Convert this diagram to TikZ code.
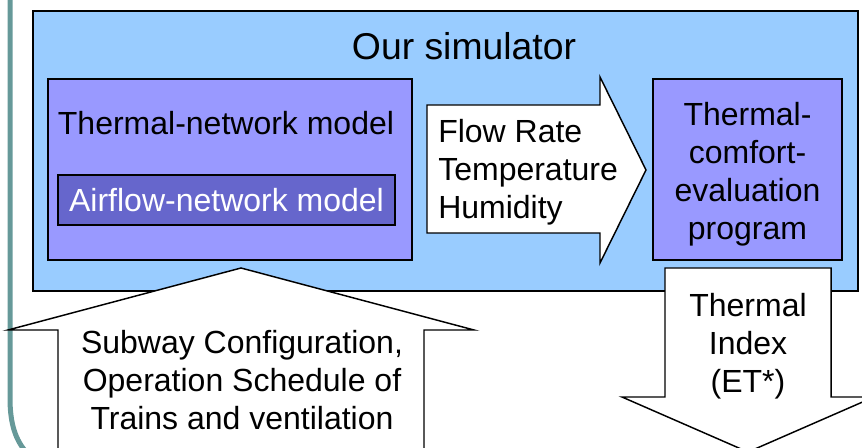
\documentclass[tikz,border=0pt]{standalone}
\usepackage{fontspec}
\setmainfont{Liberation Sans}
\usetikzlibrary{fit}
\definecolor{simblue}{RGB}{153,204,255}
\definecolor{netpurple}{RGB}{153,153,255}
\definecolor{airpurple}{RGB}{102,102,204}
\definecolor{frameteal}{RGB}{102,153,153}

\begin{document}
\begin{tikzpicture}[x=0.75pt, y=-0.75pt,
   every node/.style={font=\fontsize{24}{28.5}\selectfont, inner sep=0pt},
   box/.style={draw, line width=1.1pt, inner sep=0pt},
   blockarrow/.style={draw, fill=white, line width=1.1pt, line join=miter}]

  \useasboundingbox (0,0) rectangle (862,448);
  \clip (0,0) rectangle (862,448);

  % slide frame on the left
  \draw[frameteal, line width=3.75pt] (10,-5) -- (10,398)
       .. controls (10,425) and (16,440) .. (26,452);

  % simulator with its two models
  \node[box, fill=simblue, fit={(33,11) (858,291)}] (sim) {};
  \node[font=\fontsize{28}{34}\selectfont, anchor=base] (title) at (464,60) {Our simulator};
  \node[box, fill=netpurple, fit={(48,79) (412,260)}] (thermal) {};
  \node[anchor=base] (thermaltxt) at (226,135) {Thermal-network model};
  \node[box, fill=airpurple, text=white, minimum width=252.75pt, minimum height=37.5pt]
       (air) at (226.5,200) {Airflow-network model};

  % outputs of the network models
  \draw[blockarrow] (427,105) -- (600,105) -- (600,77) -- (646,170)
       -- (600,263) -- (600,233) -- (427,233) -- cycle;
  \node[anchor=west, align=left] (flow) at (438,172) {Flow Rate\\Temperature\\Humidity};

  \node[box, fill=netpurple, fit={(653,79) (842,260)}] (comfort) {};
  \node[align=center] (comforttxt) at (747.5,174.5) {Thermal-\\comfort-\\evaluation\\program};

  % input from below
  \draw[blockarrow] (58,470) -- (58,330) -- (8,330) -- (241,268)
       -- (474,330) -- (424,330) -- (424,470) -- cycle;
  \node[align=center] (input) at (242,380.5) {Subway Configuration,\\Operation Schedule of\\Trains and ventilation};

  % result going out
  \draw[blockarrow] (665,268) -- (831,268) -- (831,397) -- (874,397)
       -- (748,452) -- (622,397) -- (665,397) -- cycle;
  \node[align=center] (index) at (748,346) {Thermal\\Index\\(ET*)};
\end{tikzpicture}
\end{document}
